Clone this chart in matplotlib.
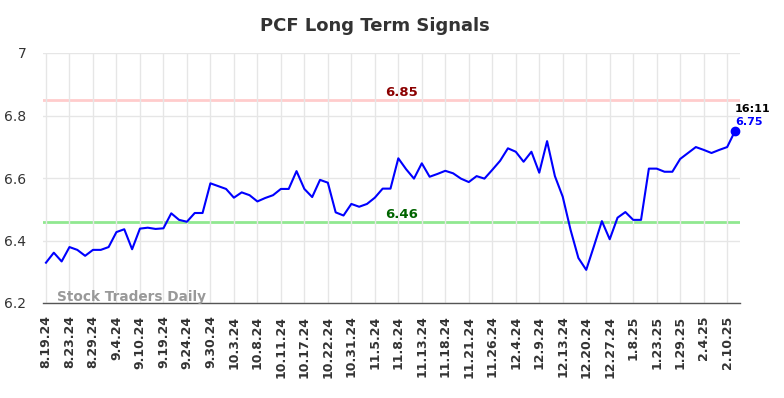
import matplotlib
matplotlib.use("Agg")
import matplotlib.pyplot as plt

values = [6.329, 6.361, 6.333, 6.379, 6.370, 6.351, 6.370, 6.370, 6.379, 6.427,
          6.436, 6.372, 6.438, 6.441, 6.437, 6.439, 6.487, 6.466, 6.460, 6.488,
          6.488, 6.583, 6.574, 6.565, 6.537, 6.554, 6.545, 6.525, 6.536, 6.545,
          6.565, 6.565, 6.622, 6.565, 6.539, 6.594, 6.585, 6.490, 6.480, 6.517,
          6.508, 6.517, 6.537, 6.566, 6.566, 6.663, 6.628, 6.598, 6.647, 6.604,
          6.613, 6.623, 6.615, 6.598, 6.587, 6.606, 6.598, 6.626, 6.655, 6.695,
          6.684, 6.652, 6.684, 6.617, 6.718, 6.606, 6.540, 6.434, 6.344, 6.306,
          6.383, 6.462, 6.404, 6.473, 6.491, 6.466, 6.466, 6.630, 6.630, 6.620,
          6.620, 6.661, 6.680, 6.699, 6.690, 6.680, 6.690, 6.699, 6.750]
tick_labels = ["8.19.24", "8.23.24", "8.29.24", "9.4.24", "9.10.24", "9.19.24",
               "9.24.24", "9.30.24", "10.3.24", "10.8.24", "10.11.24", "10.17.24",
               "10.22.24", "10.31.24", "11.5.24", "11.8.24", "11.13.24", "11.18.24",
               "11.21.24", "11.26.24", "12.4.24", "12.9.24", "12.13.24", "12.20.24",
               "12.27.24", "1.8.25", "1.23.25", "1.29.25", "2.4.25", "2.10.25"]
tick_step = 3
upper_level = 6.85
lower_level = 6.46
last_time = "16:11"
title = "PCF Long Term Signals"
watermark = "Stock Traders Daily"
y_ticks = [6.2, 6.4, 6.6, 6.8, 7.0]
y_tick_labels = ["6.2", "6.4", "6.6", "6.8", "7"]

fig = plt.figure(figsize=(7.84, 3.98), dpi=100)
ax = fig.add_axes([43/784, 1-303/398, (740-43)/784, 250/398])

x = list(range(len(values)))
ax.set_xlim(-0.38, len(values) - 1 + 0.64)
ax.set_ylim(6.2, 7.0)

ax.axhline(upper_level, color="#ffcccc", lw=2, zorder=1)
ax.axhline(lower_level, color="#90e890", lw=2, zorder=1)
ax.plot(x, values, color="#0000ff", lw=1.5, zorder=3)
ax.plot(x[-1], values[-1], "o", color="#0000ff", ms=6, zorder=4)

tick_pos = list(range(0, len(values), tick_step))[:len(tick_labels)]
ax.set_xticks(tick_pos)
ax.set_xticklabels(tick_labels, rotation=90, fontsize=9, fontweight="bold", color="#333333")
ax.set_yticks(y_ticks)
ax.set_yticklabels(y_tick_labels, fontsize=10, color="#333333")
ax.tick_params(axis="both", length=0)
ax.tick_params(axis="x", pad=9)
ax.tick_params(axis="y", pad=12)
ax.grid(True, color="#e6e6e6", lw=1, zorder=0)
for s in ["top", "right", "left"]:
    ax.spines[s].set_visible(False)
ax.spines["bottom"].set_color("#555555")
ax.spines["bottom"].set_linewidth(1)

mid = 45.4
ax.text(mid, upper_level + 0.004, f"{upper_level:.2f}", color="#8b0000", fontsize=9.5,
        fontweight="bold", ha="center", va="bottom")
ax.text(mid, lower_level + 0.004, f"{lower_level:.2f}", color="#006400", fontsize=9.5,
        fontweight="bold", ha="center", va="bottom")

ax.text(x[-1], values[-1] + 0.055, last_time, color="black", fontsize=8,
        fontweight="bold", ha="left", va="bottom")
ax.text(x[-1], values[-1] + 0.03, f"{values[-1]:.2f}", color="#0000ff", fontsize=8,
        fontweight="bold", ha="left", va="center")

ax.text(1.4, 6.197, watermark, color="#999999", fontsize=9.8, fontweight="bold",
        ha="left", va="bottom", zorder=5)

fig.text(375/784, 1-26/398, title, ha="center", va="center", fontsize=13,
         fontweight="bold", color="#333333")

fig.savefig("out.png", dpi=100)
